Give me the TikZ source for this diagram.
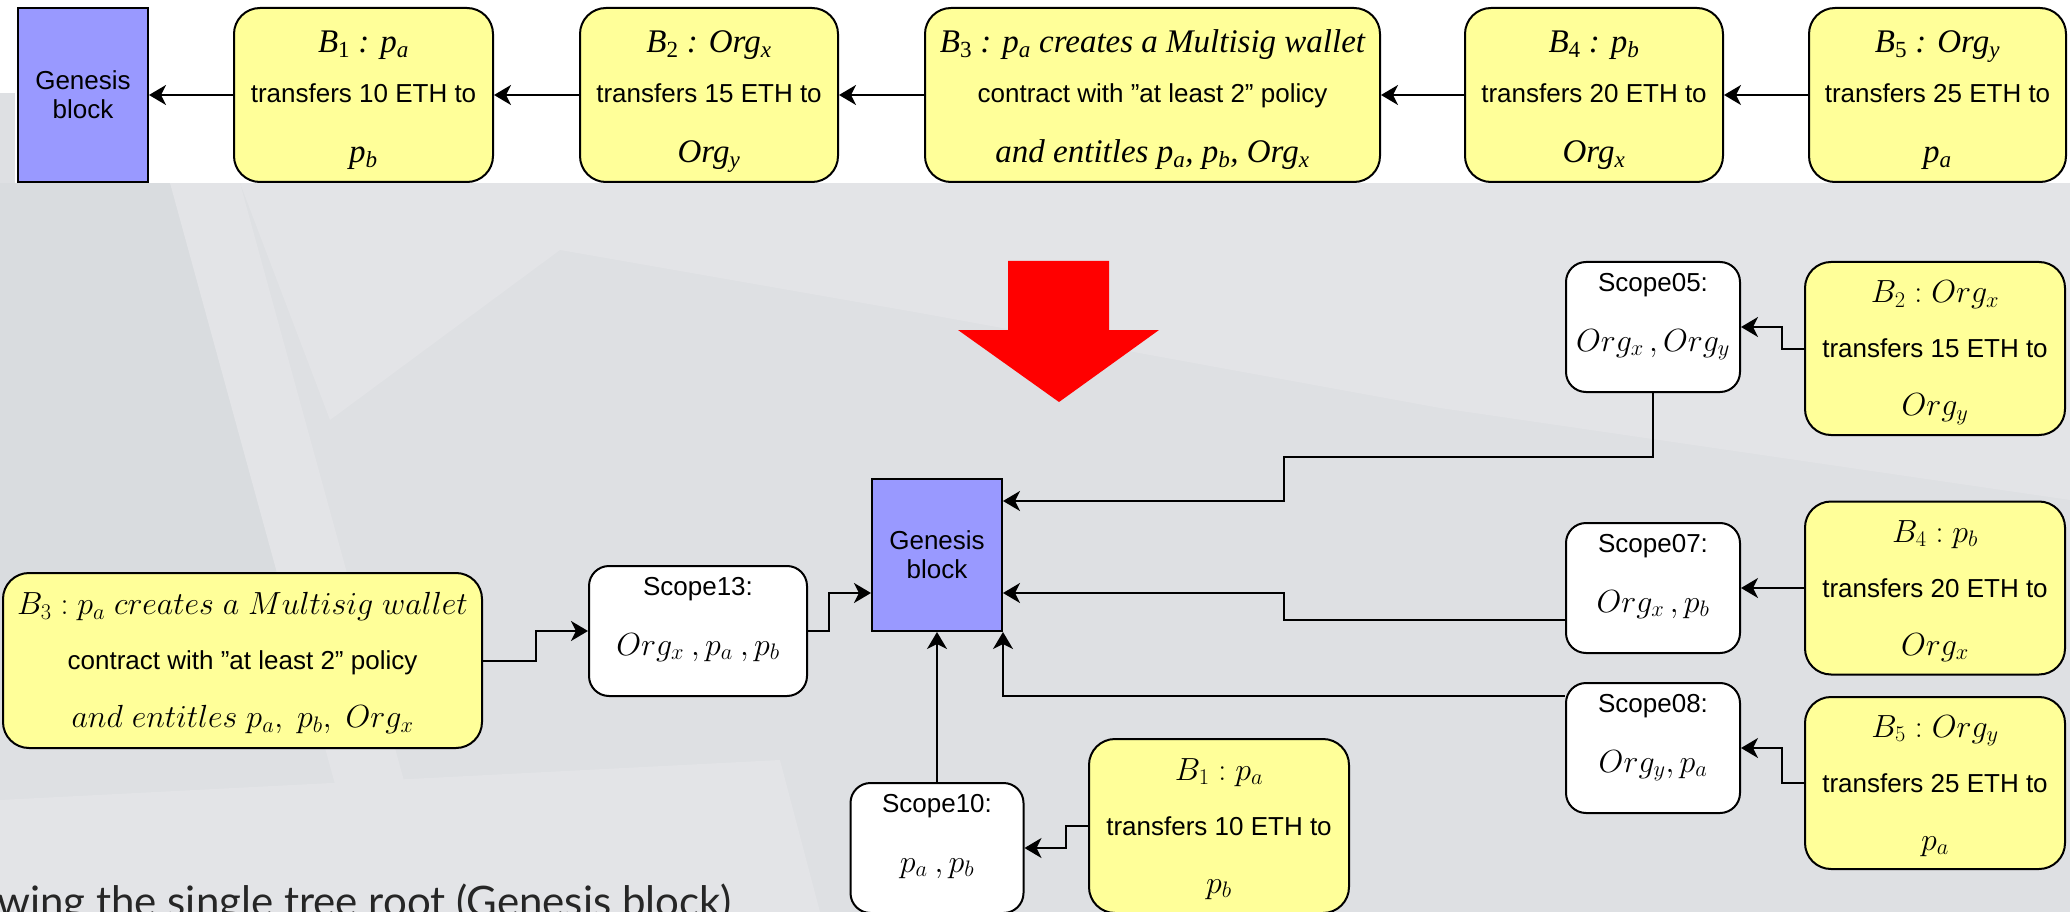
\RequirePackage{fix-cm}
\documentclass[tikz,border=0pt]{standalone}
\usepackage[no-math]{fontspec}
\setmainfont{Liberation Sans}
\newfontfamily\tms{Liberation Serif}
\newfontfamily\latof{Lato}
\usetikzlibrary{calc,arrows.meta}
\definecolor{genblue}{HTML}{9999FF}
\definecolor{byellow}{HTML}{FFFF99}
\definecolor{bgbase}{HTML}{DEE0E3}
\definecolor{bglight}{HTML}{E3E4E7}
\definecolor{bgdark}{HTML}{D9DCDF}
\newcommand\tmi[1]{{\tms\itshape\fontsize{33}{36}\selectfont #1}}
\newcommand\tsb[1]{\textsubscript{#1}}
\newcommand\mth{\fontsize{32}{36}\selectfont}
\newcommand\dq{\symbol{34}}
\begin{document}
\begin{tikzpicture}[x=1pt,y=-1pt,
 ybox/.style={draw=black, line width=2pt, fill=byellow, rounded corners=26pt, inner sep=0pt, minimum width=260pt, minimum height=174pt},
 sbox/.style={draw=black, line width=2pt, fill=white, rounded corners=20pt, inner sep=0pt, minimum width=174pt, minimum height=130pt},
 gbox/.style={draw=black, line width=2pt, fill=genblue, inner sep=0pt, minimum width=130pt, align=center, font=\fontsize{26}{29}\selectfont},
 txt/.style={anchor=base, inner sep=0pt, font=\fontsize{26}{30}\selectfont},
 conn/.style={line width=2pt, -{Stealth[length=17pt,width=20pt,inset=5pt]}}
]
\useasboundingbox (0,0) rectangle (2070,912);
% background
\fill[bgbase] (0,183) rectangle (2070,912);
\fill[bgdark] (0,183) -- (170,183) -- (300,560) -- (0,700) -- cycle;
\fill[bglight] (240,183) -- (2070,183) -- (2070,500) -- (1440,408) -- (920,313) -- (560,250) -- (330,420) -- cycle;
\fill[bglight] (170,183) -- (240,183) -- (440,912) -- (370,912) -- cycle;
\fill[bglight] (0,800) -- (780,760) -- (820,912) -- (0,912) -- cycle;
\fill[white] (0,0) rectangle (2070,183);
\fill[bgbase] (0,93) rectangle (15,183);
% ---------------- top row ----------------
\node[gbox, minimum height=174pt] (gen0) at (83,95) {Genesis\\block};
\node[ybox, minimum width=259pt] (t1) at (363.5,95) {};
\node[txt] (t1a) at ($(t1.center)+(0,-42)$) {\tmi{B\tsb{\upshape 1} : p\tsb{a}}};
\node[txt] (t1b) at ($(t1.center)+(0,8)$) {transfers 10 ETH to};
\node[txt] (t1c) at ($(t1.center)+(0,68)$) {\tmi{p\tsb{b}}};
\node[ybox, minimum width=258pt] (t2) at (709,95) {};
\node[txt] (t2a) at ($(t2.center)+(0,-42)$) {\tmi{B\tsb{\upshape 2} : Org\tsb{x}}};
\node[txt] (t2b) at ($(t2.center)+(0,8)$) {transfers 15 ETH to};
\node[txt] (t2c) at ($(t2.center)+(0,68)$) {\tmi{Org\tsb{y}}};
\node[ybox, minimum width=455pt] (t3) at (1152.5,95) {};
\node[txt] (t3a) at ($(t3.center)+(0,-42)$) {\tmi{B\tsb{\upshape 3} : p\tsb{a} creates a Multisig wallet}};
\node[txt] (t3b) at ($(t3.center)+(0,8)$) {contract with \dq at least 2\dq\ policy};
\node[txt] (t3c) at ($(t3.center)+(0,68)$) {\tmi{and entitles p\tsb{a}, p\tsb{b}, Org\tsb{x}}};
\node[ybox, minimum width=258pt] (t4) at (1594,95) {};
\node[txt] (t4a) at ($(t4.center)+(0,-42)$) {\tmi{B\tsb{\upshape 4} : p\tsb{b}}};
\node[txt] (t4b) at ($(t4.center)+(0,8)$) {transfers 20 ETH to};
\node[txt] (t4c) at ($(t4.center)+(0,68)$) {\tmi{Org\tsb{x}}};
\node[ybox, minimum width=257pt] (t5) at (1937.5,95) {};
\node[txt] (t5a) at ($(t5.center)+(0,-42)$) {\tmi{B\tsb{\upshape 5} : Org\tsb{y}}};
\node[txt] (t5b) at ($(t5.center)+(0,8)$) {transfers 25 ETH to};
\node[txt] (t5c) at ($(t5.center)+(0,68)$) {\tmi{p\tsb{a}}};
\draw[conn] (t1.west) -- (gen0.east);
\draw[conn] (t2.west) -- (t1.east);
\draw[conn] (t3.west) -- (t2.east);
\draw[conn] (t4.west) -- (t3.east);
\draw[conn] (t5.west) -- (t4.east);
% ---------------- red arrow ----------------
\fill[red] (1008,261) -- (1109,261) -- (1109,330) -- (1159,330) -- (1059,402) -- (958,330) -- (1008,330) -- cycle;
% ---------------- tree ----------------
\node[gbox, minimum height=152pt] (gen) at (937,555) {Genesis\\block};
% Scope13 and B3
\node[sbox, minimum width=218pt] (s13) at (698,631) {};
\node[txt] (s13a) at ($(s13.center)+(0,-36)$) {Scope13:};
\node[txt] (s13b) at ($(s13.center)+(0,24)$) {\mth$Org_x\:,p_a\:,p_b$};
\node[ybox, minimum width=479pt, minimum height=175pt] (b3) at (242.5,660.5) {};
\node[txt] (b3a) at ($(b3.center)+(0,-46)$) {\mth$B_3 : p_a\ creates\ a\ Multisig\ wallet$};
\node[txt] (b3b) at ($(b3.center)+(0,9)$) {contract with \dq at least 2\dq\ policy};
\node[txt] (b3c) at ($(b3.center)+(0,67)$) {\mth$and\ entitles\ p_a,\ p_b,\ Org_x$};
% Scope10 and B1
\node[sbox, minimum width=173pt] (s10) at (937,848) {};
\node[txt] (s10a) at ($(s10.center)+(0,-36)$) {Scope10:};
\node[txt] (s10b) at ($(s10.center)+(0,24)$) {\mth$p_a\:,p_b$};
\node[ybox] (b1) at (1219,826) {};
\node[txt] (b1a) at ($(b1.center)+(0,-46)$) {\mth$B_1 : p_a$};
\node[txt] (b1b) at ($(b1.center)+(0,9)$) {transfers 10 ETH to};
\node[txt] (b1c) at ($(b1.center)+(0,67)$) {\mth$p_b$};
% Scope05 and B2
\node[sbox] (s05) at (1653,327) {};
\node[txt] (s05a) at ($(s05.center)+(0,-36)$) {Scope05:};
\node[txt] (s05b) at ($(s05.center)+(0,24)$) {\mth$Org_x\,,Org_y$};
\node[ybox, minimum height=173pt] (b2) at (1935,348.5) {};
\node[txt] (b2a) at ($(b2.center)+(0,-46)$) {\mth$B_2 : Org_x$};
\node[txt] (b2b) at ($(b2.center)+(0,9)$) {transfers 15 ETH to};
\node[txt] (b2c) at ($(b2.center)+(0,67)$) {\mth$Org_y$};
% Scope07 and B4
\node[sbox] (s07) at (1653,588) {};
\node[txt] (s07a) at ($(s07.center)+(0,-36)$) {Scope07:};
\node[txt] (s07b) at ($(s07.center)+(0,24)$) {\mth$Org_x\,,p_b$};
\node[ybox, minimum height=173pt] (b4) at (1935,588) {};
\node[txt] (b4a) at ($(b4.center)+(0,-46)$) {\mth$B_4 : p_b$};
\node[txt] (b4b) at ($(b4.center)+(0,9)$) {transfers 20 ETH to};
\node[txt] (b4c) at ($(b4.center)+(0,67)$) {\mth$Org_x$};
% Scope08 and B5
\node[sbox] (s08) at (1653,748) {};
\node[txt] (s08a) at ($(s08.center)+(0,-36)$) {Scope08:};
\node[txt] (s08b) at ($(s08.center)+(0,24)$) {\mth$Org_y,p_a$};
\node[ybox, minimum height=172pt] (b5) at (1935,783) {};
\node[txt] (b5a) at ($(b5.center)+(0,-46)$) {\mth$B_5 : Org_y$};
\node[txt] (b5b) at ($(b5.center)+(0,9)$) {transfers 25 ETH to};
\node[txt] (b5c) at ($(b5.center)+(0,67)$) {\mth$p_a$};
% connectors
\draw[conn] (b3.east) -- ++(53,0) |- (s13.west);
\draw[conn] (s13.east) -- ++(21,0) |- ($(gen.west)+(0,38)$);
\draw[conn] (s10.north) -- (gen.south);
\draw[conn] (b1.west) -- ++(-22,0) |- (s10.east);
\draw[conn] (s05.south) |- (1284,457) |- ($(gen.east)+(0,-54)$);
\draw[conn] ($(s07.west)+(0,32)$) -- (1284,620) |- ($(gen.east)+(0,38)$);
\draw[conn] ($(s08.west)+(0,-52)$) -| (gen.south east);
\draw[conn] (b2.west) -- ++(-22,0) |- (s05.east);
\draw[conn] (b4.west) -- (s07.east);
\draw[conn] (b5.west) -- ++(-22,0) |- (s08.east);
% cut-off caption
\node[anchor=base west, inner sep=0pt, font=\latof\fontsize{42}{50}\selectfont, text=black!85] (cap) at (-3,916) {wing the single tree root (Genesis block)};
\end{tikzpicture}
\end{document}
